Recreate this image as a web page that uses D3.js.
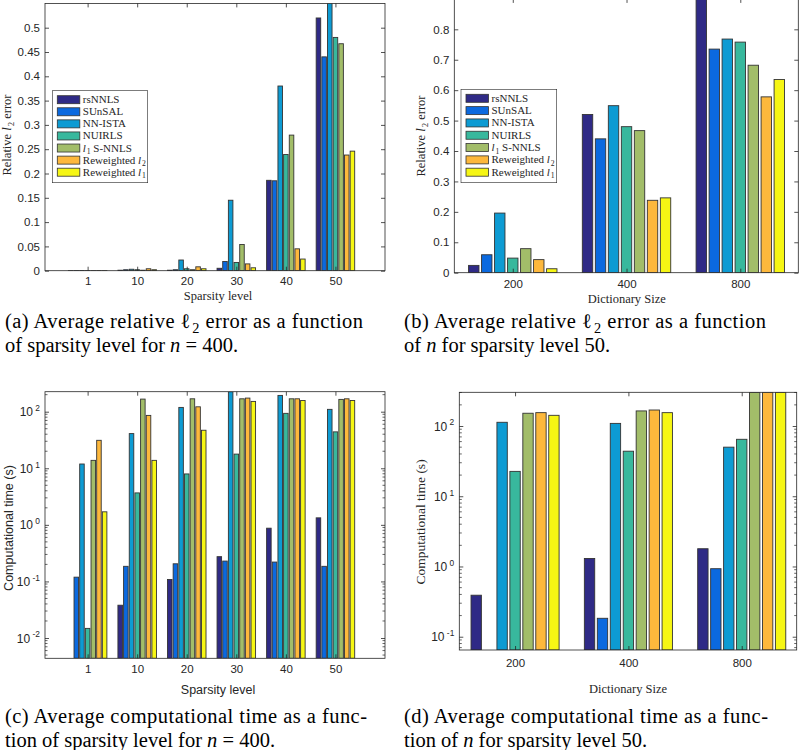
<!DOCTYPE html>
<html>
<head>
<meta charset="utf-8">
<script src="https://cdn.jsdelivr.net/npm/d3@7"></script>
<style>
  body { margin: 0; background: #fff; }
  svg { display: block; }
</style>
</head>
<body>
<svg id="fig" width="800" height="750"></svg>
<script>
// ---- data ----
const methods = ["rsNNLS", "SUnSAL", "NN-ISTA", "NUIRLS", "l1 S-NNLS", "Reweighted l2", "Reweighted l1"];
const methodColors = ["#2f2a86", "#0b69df", "#0d9bd3", "#38b89d", "#a2bd69", "#fdb83c", "#f6f614"];
const sparsityLevels = ["1", "10", "20", "30", "40", "50"];
const dictSizes = ["200", "400", "800"];

// one row per group, one column per method
const errVsSparsity = [
  [0.0002, 0.0003, 0.0005, 0.0003, 0.0002, 0.0003, 0.0002],
  [0.001, 0.002, 0.003, 0.002, 0.001, 0.004, 0.002],
  [0.001, 0.002, 0.022, 0.004, 0.002, 0.008, 0.004],
  [0.005, 0.019, 0.145, 0.017, 0.054, 0.014, 0.006],
  [0.186, 0.185, 0.380, 0.239, 0.279, 0.045, 0.024],
  [0.520, 0.440, 0.580, 0.480, 0.467, 0.238, 0.246]
];
const errVsDict = [
  [0.024, 0.059, 0.196, 0.048, 0.079, 0.043, 0.013],
  [0.520, 0.440, 0.549, 0.480, 0.467, 0.238, 0.246],
  [0.950, 0.735, 0.768, 0.758, 0.682, 0.578, 0.635]
];
const timeVsSparsity = [
  [0.003, 0.119, 11.9, 0.0148, 13.8, 31.2, 1.70],
  [0.038, 0.185, 41, 3.67, 167, 86, 13.8],
  [0.108, 0.205, 119, 7.94, 169, 122, 47],
  [0.274, 0.229, 300, 17.8, 169, 174, 152],
  [0.873, 0.220, 194, 93.5, 169, 169, 158],
  [1.33, 0.185, 110, 44, 165, 169, 158]
];
const timeVsDict = [
  [0.39, 0.05, 113, 22.6, 152, 155, 142],
  [1.30, 0.183, 109, 43.8, 164, 169, 155],
  [1.79, 0.93, 50, 64.7, 350, 360, 340]
];

const errTicksA = [0, 0.05, 0.1, 0.15, 0.2, 0.25, 0.3, 0.35, 0.4, 0.45, 0.5];
const errTicksB = [0, 0.1, 0.2, 0.3, 0.4, 0.5, 0.6, 0.7, 0.8];
const timeTicksC = [0.01, 0.1, 1, 10, 100];
const timeTicksD = [0.1, 1, 10, 100];

// ---- styling ----
const SERIF = "Liberation Serif";
const SANS = "Liberation Sans";
const AX = "#262626";
const svg = d3.select("#fig");

// write text made of pieces: {t, i (italic), sub, sup, back}
function rich(sel, parts, size) {
  parts.forEach(p => {
    const ts = sel.append("tspan").text(p.t);
    if (p.i) ts.attr("font-style", "italic");
    if (p.sub) ts.attr("font-size", size * 0.7).attr("dy", size * 0.25).attr("dx", size * 0.08);
    if (p.sup) ts.attr("font-size", size * 0.7).attr("dy", -size * 0.42);
    if (p.back) ts.attr("dy", p.back);
  });
  return sel;
}

function legendParts(name, size) {
  if (name === "l1 S-NNLS") return [{t: "l", i: true}, {t: "1", sub: true}, {t: " S-NNLS", back: -size * 0.25}];
  if (name === "Reweighted l2") return [{t: "Reweighted "}, {t: "l", i: true}, {t: "2", sub: true}];
  if (name === "Reweighted l1") return [{t: "Reweighted "}, {t: "l", i: true}, {t: "1", sub: true}];
  return [{t: name}];
}

let clipId = 0;
function drawPanel(cfg) {
  const g = svg.append("g");
  const x = d3.scaleLinear().domain(cfg.xDomain).range([cfg.left, cfg.right]);
  const y = cfg.log
    ? d3.scaleLog().domain(cfg.yDomain).range([cfg.bottom, cfg.top]).clamp(true)
    : d3.scaleLinear().domain(cfg.yDomain).range([cfg.bottom, cfg.top]);
  const inner = d3.scaleBand().domain(methods).range([-0.4, 0.4])
    .paddingInner(0.2).paddingOuter(0.1);

  const id = "clip" + (clipId++);
  g.append("clipPath").attr("id", id).append("rect")
    .attr("x", cfg.left).attr("y", cfg.top)
    .attr("width", cfg.right - cfg.left).attr("height", cfg.bottom - cfg.top);

  const bars = [];
  cfg.values.forEach((row, gi) => row.forEach((v, mi) => bars.push({gi, mi, v})));
  const bx = d => x(d.gi + 1 + inner(methods[d.mi]));

  g.append("g").attr("clip-path", `url(#${id})`)
    .selectAll("rect")
    .data(bars)
    .join("rect")
      .attr("x", bx)
      .attr("width", d => x(d.gi + 1 + inner(methods[d.mi]) + inner.bandwidth()) - bx(d))
      .attr("y", d => y(d.v))
      .attr("height", d => Math.max(0, y.range()[0] - y(d.v)))
      .attr("fill", d => methodColors[d.mi])
      .attr("stroke", "#333")
      .attr("stroke-width", 0.9);

  const tl = 4;
  const groupTicks = cfg.cats.map((c, i) => i + 1);

  // axes (ticks point inwards, box on)
  const xb = g.append("g").attr("transform", `translate(0,${cfg.bottom})`)
    .call(d3.axisBottom(x).tickValues(groupTicks).tickFormat((d, i) => cfg.cats[i])
      .tickSizeInner(-tl).tickSizeOuter(0).tickPadding(cfg.xPad));
  const xt = g.append("g").attr("transform", `translate(0,${cfg.top})`)
    .call(d3.axisTop(x).tickValues(groupTicks).tickFormat("").tickSizeInner(-tl).tickSizeOuter(0));
  const yl = g.append("g").attr("transform", `translate(${cfg.left},0)`)
    .call(d3.axisLeft(y).tickValues(cfg.yTicks).tickFormat(cfg.log ? "" : d3.format("~g"))
      .tickSizeInner(-tl).tickSizeOuter(0).tickPadding(5));
  const yr = g.append("g").attr("transform", `translate(${cfg.right},0)`)
    .call(d3.axisRight(y).tickValues(cfg.yTicks).tickFormat("").tickSizeInner(-tl).tickSizeOuter(0));

  [xb, xt, yl, yr].forEach(a => {
    a.select(".domain").remove();
    a.selectAll("line").attr("stroke", AX).attr("stroke-width", 0.8);
    a.selectAll("text").attr("fill", AX).attr("font-family", SANS).attr("font-size", 11.5);
  });

  if (cfg.log) {
    // minor ticks
    const lo = Math.floor(Math.log10(cfg.yDomain[0])), hi = Math.ceil(Math.log10(cfg.yDomain[1]));
    const minors = [];
    for (let e = lo; e < hi; e++) for (let k = 2; k <= 9; k++) {
      const v = k * Math.pow(10, e);
      if (v > cfg.yDomain[0] && v < cfg.yDomain[1]) minors.push(v);
    }
    g.selectAll(null).data(minors).join("line")
      .attr("x1", cfg.left).attr("x2", cfg.left + 2.5)
      .attr("y1", d => y(d)).attr("y2", d => y(d))
      .attr("stroke", AX).attr("stroke-width", 0.7);
    g.selectAll(null).data(minors).join("line")
      .attr("x1", cfg.right).attr("x2", cfg.right - 2.5)
      .attr("y1", d => y(d)).attr("y2", d => y(d))
      .attr("stroke", AX).attr("stroke-width", 0.7);
    // 10^k labels
    g.selectAll(null).data(cfg.yTicks).join("text")
      .attr("x", cfg.left - 5)
      .attr("y", d => y(d) + 4.5)
      .attr("text-anchor", "end")
      .attr("font-family", SANS).attr("font-size", 12).attr("fill", AX)
      .each(function(d) {
        rich(d3.select(this), [{t: "10"}, {t: " " + String(Math.round(Math.log10(d))), sup: true}], 12);
      });
  }

  g.append("rect")
    .attr("x", cfg.left).attr("y", cfg.top)
    .attr("width", cfg.right - cfg.left).attr("height", cfg.bottom - cfg.top)
    .attr("fill", "none").attr("stroke", AX).attr("stroke-width", 0.8);

  // axis labels
  g.append("text")
    .attr("x", cfg.xLabel.x).attr("y", cfg.xLabel.y)
    .attr("text-anchor", "middle")
    .attr("font-family", cfg.xLabel.font).attr("font-size", cfg.xLabel.size)
    .attr("fill", AX)
    .text(cfg.xLabel.text);

  const ylab = g.append("text")
    .attr("transform", `translate(${cfg.yLabel.x},${cfg.yLabel.y}) rotate(-90)`)
    .attr("text-anchor", "middle")
    .attr("font-family", cfg.yLabel.font).attr("font-size", cfg.yLabel.size)
    .attr("fill", AX);
  rich(ylab, cfg.yLabel.parts, cfg.yLabel.size);

  // legend
  if (cfg.legend) {
    const L = cfg.legend, fs = 11;
    const lg = g.append("g");
    lg.append("rect")
      .attr("x", L.x).attr("y", L.y).attr("width", L.w).attr("height", L.h)
      .attr("fill", "#fff").attr("stroke", AX).attr("stroke-width", 0.6);
    const row = d3.scalePoint().domain(methods).range([L.y + 9, L.y + L.h - 10.5]);
    lg.selectAll("rect.sw").data(methods).join("rect")
      .attr("class", "sw")
      .attr("x", L.x + 5).attr("y", d => row(d) - 4)
      .attr("width", 22.5).attr("height", 8)
      .attr("fill", (d, i) => methodColors[i])
      .attr("stroke", "#333").attr("stroke-width", 0.8);
    lg.selectAll("text").data(methods).join("text")
      .attr("x", L.x + 30.5).attr("y", d => row(d) + 3.5)
      .attr("font-family", SERIF).attr("font-size", fs).attr("fill", AX)
      .each(function(d) { rich(d3.select(this), legendParts(d, fs), fs); });
  }
}

const relErrParts = [{t: "Relative "}, {t: "l", i: true}, {t: "2", sub: true}, {t: " error", back: -12.5 * 0.25}];

drawPanel({
  left: 45, right: 385, top: 3.4, bottom: 270.7,
  xDomain: [0.14, 7.0], yDomain: [0, 0.55], log: false, xPad: 6,
  yTicks: errTicksA, cats: sparsityLevels, values: errVsSparsity,
  xLabel: {text: "Sparsity level", x: 218, y: 299.5, font: SERIF, size: 12.5},
  yLabel: {parts: relErrParts, x: 11, y: 135, font: SERIF, size: 12.5},
  legend: {x: 52.3, y: 90.7, w: 95.4, h: 92}
});

drawPanel({
  left: 454.3, right: 798.3, top: -1.1, bottom: 272.7,
  xDomain: [0.486, 3.51], yDomain: [0, 0.9], log: false, xPad: 7,
  yTicks: errTicksB, cats: dictSizes, values: errVsDict,
  xLabel: {text: "Dictionary Size", x: 626.7, y: 303, font: SERIF, size: 12.5},
  yLabel: {parts: relErrParts, x: 425, y: 136, font: SERIF, size: 12.5},
  legend: {x: 461, y: 89.3, w: 95.7, h: 93.4}
});

drawPanel({
  left: 45, right: 385, top: 391.7, bottom: 658.3,
  xDomain: [0.14, 7.0], yDomain: [0.00438, 225.6], log: true, xPad: 7,
  yTicks: timeTicksC, cats: sparsityLevels, values: timeVsSparsity,
  xLabel: {text: "Sparsity level", x: 218, y: 694, font: SANS, size: 12.5},
  yLabel: {parts: [{t: "Computational time (s)"}], x: 12.5, y: 528, font: SANS, size: 12.5},
  legend: null
});

drawPanel({
  left: 459.3, right: 796.7, top: 392.3, bottom: 650,
  xDomain: [0.508, 3.485], yDomain: [0.0647, 302], log: true, xPad: 9,
  yTicks: timeTicksD, cats: dictSizes, values: timeVsDict,
  xLabel: {text: "Dictionary Size", x: 628, y: 693, font: SERIF, size: 12.5},
  yLabel: {parts: [{t: "Computational time (s)"}], x: 425, y: 522, font: SERIF, size: 13.5},
  legend: null
});

// ---- captions (first lines stretched to the printed width) ----
const capSize = 20.5;
const sub2 = [{t: "ℓ"}, {t: "2", sub: true}];
const captions = [
  {x: 5, y: 328, w: 358, parts: [{t: "(a) Average relative "}, ...sub2, {t: " error as a function", back: -capSize * 0.25}]},
  {x: 5, y: 352, w: null, parts: [{t: "of sparsity level for "}, {t: "n", i: true}, {t: " = 400."}]},
  {x: 404, y: 328, w: 362, parts: [{t: "(b) Average relative "}, ...sub2, {t: " error as a function", back: -capSize * 0.25}]},
  {x: 404, y: 352, w: null, parts: [{t: "of "}, {t: "n", i: true}, {t: " for sparsity level 50."}]},
  {x: 5, y: 723, w: 362, parts: [{t: "(c) Average computational time as a func-"}]},
  {x: 5, y: 747, w: null, parts: [{t: "tion of sparsity level for "}, {t: "n", i: true}, {t: " = 400."}]},
  {x: 404, y: 723, w: 364, parts: [{t: "(d) Average computational time as a func-"}]},
  {x: 404, y: 747, w: null, parts: [{t: "tion of "}, {t: "n", i: true}, {t: " for sparsity level 50."}]}
];
captions.forEach(c => {
  const t = svg.append("text").attr("x", c.x).attr("y", c.y)
    .attr("font-family", SERIF).attr("font-size", capSize).attr("fill", "#000");
  rich(t, c.parts, capSize);
  if (c.w) t.attr("textLength", c.w).attr("lengthAdjust", "spacing");
});
</script>
</body>
</html>
